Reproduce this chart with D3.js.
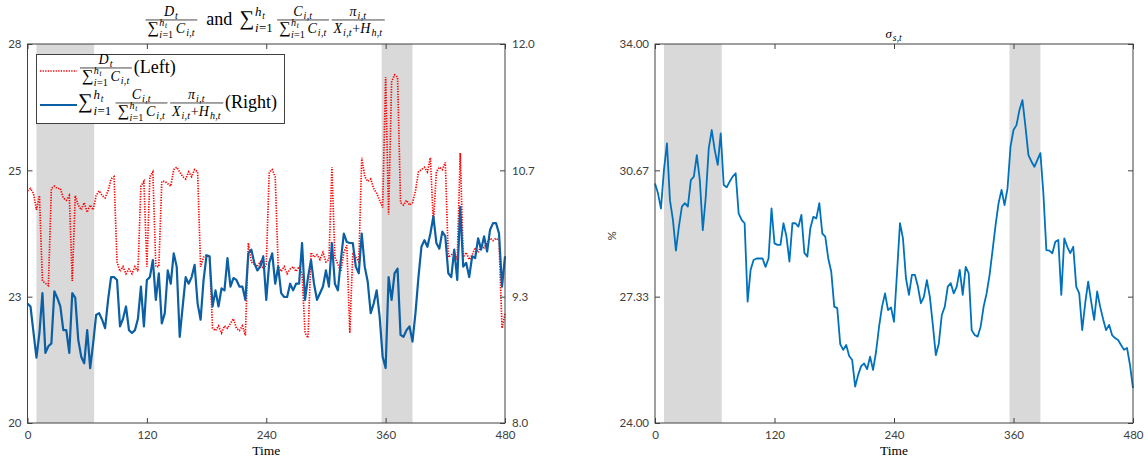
<!DOCTYPE html>
<html>
<head>
<meta charset="utf-8">
<script src="https://cdn.jsdelivr.net/npm/d3@7"></script>
<style>
  body { margin: 0; background: #fff; }
  .tick text { font-family: Lato, "Open Sans", sans-serif; font-size: 11.5px; fill: #404040; }
  .tick line { stroke: #404040; }
</style>
</head>
<body>
<svg id="chart" width="1148" height="464"></svg>
<script>
// ---- data (one value every 3 periods) ----
const timeStep = 3
const timeTicks = [0, 120, 240, 360, 480]
const recessions = [[9, 67], [356, 387]]

// D_t / sum C (left axis)
const debtRatio = [
  24.9, 24.95, 24.85, 24.5, 24.8, 23.0, 22.95, 22.9, 24.95, 25.0,
  24.95, 24.95, 24.75, 24.7, 24.8, 23.0, 24.8, 24.6, 24.5, 24.65,
  24.45, 24.6, 24.5, 24.8, 24.9, 24.8, 24.75, 24.9, 25.15, 25.2,
  23.4, 23.2, 23.3, 23.15, 23.25, 23.15, 23.3, 23.2, 25.0, 25.1,
  23.3, 25.2, 25.3, 23.3, 23.3, 25.1, 25.1, 25.05, 25.0, 25.35,
  25.4, 25.3, 25.2, 25.15, 25.3, 25.2, 25.35, 25.3, 23.3, 23.5,
  23.55, 23.5, 22.0, 21.95, 22.05, 21.9, 22.05, 22.0, 22.1, 22.2,
  22.0, 21.95, 22.05, 21.85, 23.8, 23.4, 23.35, 23.3, 23.4, 23.25,
  23.35, 25.3, 25.35, 25.2, 23.3, 23.2, 23.3, 23.15, 23.25, 23.3,
  23.2, 23.3, 23.15, 21.9, 21.8, 23.6, 23.5, 23.55, 23.45, 23.6,
  23.4, 23.45, 25.4, 23.5, 23.35, 23.2, 23.6, 23.75, 21.9, 23.6,
  23.5, 23.4, 25.6, 25.2, 25.1, 25.15, 24.95, 24.85, 24.7, 24.55,
  27.3, 24.4, 27.2, 27.35, 27.3, 24.65, 24.6, 24.7, 24.6, 24.65,
  24.9, 25.3, 25.35, 25.4, 25.3, 25.6, 24.2, 25.3, 25.4, 25.35,
  25.5, 23.5, 23.55, 23.6, 23.45, 25.7, 23.5, 23.6, 23.45, 23.55,
  23.7, 23.6, 23.75, 23.7, 23.8, 23.9, 23.85, 23.9, 23.85, 22.0,
  22.3
]

// sum of weighted pi/(X+H) (right axis)
const weightedReturn = [
  9.26, 9.23, 8.96, 8.69, 8.95, 9.37, 8.74, 8.81, 8.84, 9.39,
  9.32, 9.23, 8.98, 8.98, 8.74, 9.37, 9.32, 8.88, 8.70, 8.63,
  8.98, 8.58, 8.84, 9.14, 9.16, 9.09, 9.00, 9.30, 9.54, 9.54,
  9.51, 9.02, 9.10, 9.23, 8.98, 8.95, 8.98, 9.10, 9.44, 9.02,
  9.51, 9.54, 9.72, 9.30, 9.58, 9.05, 9.16, 9.61, 9.47, 9.79,
  9.65, 8.91, 9.23, 9.54, 9.47, 9.54, 9.67, 9.26, 9.09, 9.51,
  9.77, 9.76, 9.23, 9.40, 9.23, 9.42, 9.40, 9.74, 9.44, 9.53,
  9.51, 9.44, 9.44, 9.30, 9.79, 9.83, 9.69, 9.61, 9.65, 9.76,
  9.30, 9.69, 9.79, 9.47, 9.65, 9.37, 9.33, 9.33, 9.47, 9.40,
  9.47, 9.47, 9.90, 9.30, 9.54, 9.72, 9.47, 9.30, 9.37, 9.44,
  9.61, 9.44, 9.90, 9.47, 9.40, 9.72, 10.00, 9.91, 9.90, 9.90,
  9.65, 9.58, 10.00, 9.65, 9.49, 9.16, 9.26, 9.40, 9.12, 8.70,
  8.58, 9.54, 9.30, 9.58, 9.63, 8.93, 8.91, 8.98, 9.02, 8.86,
  9.16, 9.54, 9.86, 9.93, 9.86, 10.00, 10.18, 9.90, 9.84, 10.02,
  9.97, 9.58, 9.54, 9.83, 9.51, 10.28, 9.65, 9.69, 9.54, 9.76,
  9.74, 9.95, 9.83, 9.97, 9.81, 10.04, 10.11, 10.11, 10.00, 9.44,
  9.76
]

// sigma_{s,t} in %
const sigma = [
  30.32, 30.06, 29.66, 30.68, 31.38, 29.88, 29.36, 28.55, 29.18, 29.71,
  29.80, 29.71, 30.41, 30.50, 31.07, 30.41, 29.09, 29.97, 31.25, 31.73,
  31.20, 30.81, 31.64, 30.28, 30.22, 30.37, 30.50, 30.59, 29.53, 29.36,
  29.27, 27.20, 28.04, 28.30, 28.34, 28.34, 28.34, 28.12, 28.34, 29.66,
  28.74, 28.70, 28.70, 29.27, 28.92, 28.26, 29.27, 29.27, 29.18, 29.49,
  28.49, 28.39, 29.14, 29.44, 29.40, 29.80, 29.00, 28.92, 28.34, 27.99,
  27.07, 27.03, 26.08, 25.93, 26.06, 25.77, 25.66, 24.96, 25.27, 25.50,
  25.57, 25.42, 25.75, 25.40, 25.88, 26.54, 27.07, 27.42, 26.98, 27.05,
  26.67, 27.95, 29.27, 28.87, 27.82, 27.38, 27.91, 27.91, 27.60, 27.16,
  27.33, 27.77, 27.33, 26.59, 25.79, 26.10, 26.85, 27.07, 27.60, 27.69,
  27.42, 27.60, 28.04, 27.38, 28.12, 27.95, 26.45, 26.32, 26.28, 26.54,
  27.07, 27.42, 27.91, 28.56, 29.22, 29.80, 30.15, 29.75, 30.19, 31.29,
  31.73, 31.86, 32.26, 32.52, 31.82, 31.07, 30.90, 30.76, 30.94, 31.12,
  30.06, 28.56, 28.55, 28.48, 28.78, 28.83, 27.38, 28.87, 28.65, 28.48,
  28.65, 27.60, 27.42, 26.45, 27.16, 27.73, 27.20, 26.72, 27.47, 27.07,
  26.74, 26.45, 26.59, 26.32, 26.24, 26.19, 26.06, 25.93, 25.98, 25.53,
  24.92
]

const leftTicks = [20, 20 + 8 / 3, 20 + 16 / 3, 28]
const rightTicks = [8, 8 + 4 / 3, 8 + 8 / 3, 12]
const sigmaTicks = [24, 24 + 10 / 3, 24 + 20 / 3, 34]

// ---- layout ----
const svg = d3.select("#chart")
const plotTop = 44, plotBottom = 423
const serif = "'Liberation Serif', 'DejaVu Serif', serif"

const xL = d3.scaleLinear().domain([0, 480]).range([27.5, 505])
const yL = d3.scaleLinear().domain([20, 28]).range([plotBottom, plotTop])
const yR = d3.scaleLinear().domain([8, 12]).range([plotBottom, plotTop])
const xS = d3.scaleLinear().domain([0, 480]).range([655, 1133])
const yS = d3.scaleLinear().domain([24, 34]).range([plotBottom, plotTop])

// tiny math typesetter: items are text runs, scripts and fractions
const it = s => ({ t: s, it: true })
const rm = s => ({ t: s })
const big = s => ({ t: s, k: 1.15 })
const scr = (sub, sup) => ({ sub, sup })
const frac = (num, den) => ({ frac: [num, den] })
const sp = n => ({ sp: n })

function typeset(g, items, size) {
  let x = 0
  items.forEach(d => {
    if (d.sp != null) { x += d.sp * size / 10; return }
    if (d.t != null) {
      const el = g.append("text").attr("x", x).attr("y", 0)
        .attr("font-size", size * (d.k || 1))
        .attr("font-style", d.it ? "italic" : null)
        .text(d.t)
      x += el.node().getComputedTextLength() + (d.it ? size * 0.03 : 0)
      return
    }
    if (d.frac) {
      const s = size * 0.78
      const gn = g.append("g"), gd = g.append("g")
      const wn = typeset(gn, d.frac[0], s)
      const wd = typeset(gd, d.frac[1], s)
      const w = Math.max(wn, wd) + size * 0.2
      const axis = -size * 0.28
      gn.attr("transform", `translate(${x + (w - wn) / 2},${axis - s * 0.3})`)
      gd.attr("transform", `translate(${x + (w - wd) / 2},${axis + s * 0.92})`)
      g.append("line")
        .attr("x1", x).attr("x2", x + w)
        .attr("y1", axis).attr("y2", axis)
        .attr("stroke", "#000").attr("stroke-width", Math.max(0.7, size * 0.04))
      x += w + size * 0.1
      return
    }
    const s = size * 0.72
    let w = 0
    if (d.sup) {
      const gs = g.append("g").attr("transform", `translate(${x + size * 0.04},${-size * 0.5})`)
      w = Math.max(w, typeset(gs, d.sup, s))
    }
    if (d.sub) {
      const gs = g.append("g").attr("transform", `translate(${x + size * 0.04},${size * (d.sup ? 0.38 : 0.24)})`)
      w = Math.max(w, typeset(gs, d.sub, s))
    }
    x += w + size * 0.08
  })
  return x
}

const sumLimits = [big("∑"), scr([it("i"), rm("=1")], [it("h"), scr([it("t")])])]
const sumC = [...sumLimits, sp(1.5), it("C"), scr([it("i"), rm(","), it("t")])]
const ratioExpr = [frac([it("D"), scr([it("t")])], sumC)]
const returnExpr = [
  ...sumLimits, sp(2),
  frac([it("C"), scr([it("i"), rm(","), it("t")])], sumC), sp(0.5),
  frac([it("π"), scr([it("i"), rm(","), it("t")])],
       [it("X"), scr([it("i"), rm(","), it("t")]), rm("+"), it("H"), scr([it("h"), rm(","), it("t")])])
]

function mathLabel(parent, items, size, x, y, anchor) {
  const g = parent.append("g").attr("font-family", serif).attr("fill", "#000")
  const w = typeset(g, items, size)
  const x0 = anchor === "middle" ? x - w / 2 : x
  g.attr("transform", `translate(${x0},${y})`)
  return g
}

function drawFrame(x, y, yRight, ticksL, fmtL, ticksR, fmtR) {
  const g = svg.append("g")
  g.append("g").attr("transform", `translate(0,${plotBottom})`)
    .call(d3.axisBottom(x).tickValues(timeTicks).tickSize(-5).tickPadding(8))
  g.append("g").attr("transform", `translate(0,${plotTop})`)
    .call(d3.axisTop(x).tickValues(timeTicks).tickSize(-5).tickFormat(""))
  g.append("g").attr("transform", `translate(${x.range()[0]},0)`)
    .call(d3.axisLeft(y).tickValues(ticksL).tickFormat(fmtL).tickSize(-5).tickPadding(6))
  g.append("g").attr("transform", `translate(${x.range()[1]},0)`)
    .call(d3.axisRight(yRight).tickValues(ticksR).tickFormat(fmtR).tickSize(-5).tickPadding(7))
  g.selectAll(".domain").remove()
  g.append("rect")
    .attr("x", x.range()[0]).attr("y", plotTop)
    .attr("width", x.range()[1] - x.range()[0]).attr("height", plotBottom - plotTop)
    .attr("fill", "none").attr("stroke", "#404040").attr("stroke-width", 1)
  svg.append("text")
    .attr("x", (x.range()[0] + x.range()[1]) / 2).attr("y", 455)
    .attr("text-anchor", "middle")
    .attr("font-family", serif).attr("font-size", 13.5)
    .text("Time")
}

function shade(x) {
  svg.append("g").selectAll("rect").data(recessions).join("rect")
    .attr("x", d => x(d[0])).attr("y", plotTop)
    .attr("width", d => x(d[1]) - x(d[0])).attr("height", plotBottom - plotTop)
    .attr("fill", "#d9d9d9")
}

// ---- left panel ----
shade(xL)
svg.append("path")
  .datum(debtRatio)
  .attr("fill", "none").attr("stroke", "#ff0000")
  .attr("stroke-width", 1.7).attr("stroke-dasharray", "1.3 1.3")
  .attr("d", d3.line().x((d, i) => xL(i * timeStep)).y(d => yL(d)))
svg.append("path")
  .datum(weightedReturn)
  .attr("fill", "none").attr("stroke", "#0b5fa5")
  .attr("stroke-width", 2.2).attr("stroke-linejoin", "round")
  .attr("d", d3.line().x((d, i) => xL(i * timeStep)).y(d => yR(d)))

drawFrame(xL, yL, yR, leftTicks, d3.format(".0f"), rightTicks, d3.format(".1f"))

mathLabel(svg, [...ratioExpr, sp(4), rm("and"), sp(4), ...returnExpr], 18, 266, 25, "middle")

// legend
const legend = svg.append("g")
legend.append("rect")
  .attr("x", 36.5).attr("y", 54.5).attr("width", 248).attr("height", 69)
  .attr("fill", "#fff").attr("stroke", "#404040").attr("stroke-width", 1)
legend.append("line")
  .attr("x1", 40).attr("x2", 77).attr("y1", 71).attr("y2", 71)
  .attr("stroke", "#ff0000").attr("stroke-width", 1.7).attr("stroke-dasharray", "1.3 1.3")
legend.append("line")
  .attr("x1", 40).attr("x2", 77).attr("y1", 105).attr("y2", 105)
  .attr("stroke", "#0b5fa5").attr("stroke-width", 2.2)
mathLabel(legend, [...ratioExpr, rm("(Left)")], 18, 80, 73)
mathLabel(legend, [...returnExpr, rm("(Right)")], 18, 78, 108)

// ---- right panel ----
shade(xS)
svg.append("path")
  .datum(sigma)
  .attr("fill", "none").attr("stroke", "#0072bd")
  .attr("stroke-width", 1.8).attr("stroke-linejoin", "round")
  .attr("d", d3.line().x((d, i) => xS(i * timeStep)).y(d => yS(d)))

drawFrame(xS, yS, yS, sigmaTicks, d3.format(".2f"), sigmaTicks, () => "")

mathLabel(svg, [it("σ"), scr([it("s"), rm(","), it("t")])], 13, 894, 38, "middle")
svg.append("text")
  .attr("transform", "translate(616,236) rotate(-90)")
  .attr("text-anchor", "middle")
  .attr("font-family", "Lato, sans-serif").attr("font-size", 11.5).attr("fill", "#404040")
  .text("%")
</script>
</body>
</html>
